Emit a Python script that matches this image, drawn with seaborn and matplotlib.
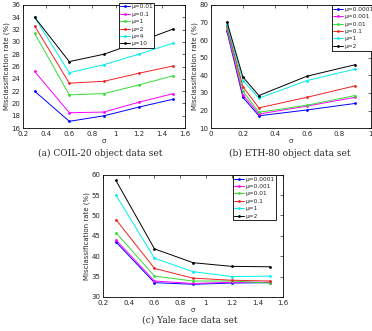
import numpy as np
import pandas as pd
import matplotlib
matplotlib.use("Agg")
import matplotlib.pyplot as plt
import seaborn as sns

# (a) COIL-20
sigma_a = [0.3, 0.6, 0.9, 1.2, 1.5]
mu_a = ['μ=0.01', 'μ=0.1', 'μ=1', 'μ=2', 'μ=4', 'μ=10']
coil = [
    [22.0, 17.1, 18.0, 19.4, 20.7],
    [25.2, 18.5, 18.6, 20.2, 21.6],
    [31.4, 21.4, 21.6, 23.0, 24.5],
    [32.6, 23.3, 23.6, 24.9, 26.1],
    [34.0, 25.0, 26.3, 28.0, 29.8],
    [34.0, 26.8, 28.0, 30.0, 32.1],
]

# (b) ETH-80
sigma_b = [0.1, 0.2, 0.3, 0.6, 0.9]
mu_b = ['μ=0.0001', 'μ=0.001', 'μ=0.01', 'μ=0.1', 'μ=1', 'μ=2']
eth = [
    [65.0, 27.5, 17.0, 20.3, 24.0],
    [66.0, 29.0, 18.0, 22.5, 27.5],
    [67.0, 31.0, 19.0, 23.0, 28.5],
    [68.0, 33.5, 21.5, 27.5, 34.0],
    [69.0, 37.0, 27.0, 37.0, 43.5],
    [70.5, 39.0, 28.5, 39.5, 46.0],
]

# (c) Yale
sigma_c = [0.3, 0.6, 0.9, 1.2, 1.5]
mu_c = ['μ=0.0001', 'μ=0.001', 'μ=0.01', 'μ=0.1', 'μ=1', 'μ=2']
yale = [
    [43.5, 33.5, 33.1, 33.4, 33.5],
    [44.0, 33.9, 33.3, 33.6, 33.6],
    [45.8, 35.1, 33.9, 33.9, 33.4],
    [49.0, 37.0, 34.6, 34.1, 33.9],
    [55.0, 39.5, 36.2, 35.0, 35.1],
    [58.6, 41.8, 38.4, 37.5, 37.4],
]

colors = ['#0000ff', '#ff00ff', '#33dd33', '#ee2222', '#00eeee', '#000000']

sns.set_style('white')
plt.rcParams['font.family'] = ['DejaVu Sans']


def make_df(sig, mus, vals):
    rows = []
    for m, v in zip(mus, vals):
        for s, y in zip(sig, v):
            rows.append({'sigma': s, 'rate': y, 'mu': m})
    return pd.DataFrame(rows)


def tick_fmt(v):
    return f'{v:g}'


def panel(ax, sig, mus, vals, xlim, xticks, ylim, yticks, leg_anchor):
    df = make_df(sig, mus, vals)
    sns.lineplot(data=df, x='sigma', y='rate', hue='mu', hue_order=mus,
                 palette=colors, marker='.', markersize=4, markeredgewidth=0,
                 linewidth=0.7, ax=ax)
    ax.set_xlim(*xlim)
    ax.set_ylim(*ylim)
    ax.set_xticks(xticks)
    ax.set_xticklabels([tick_fmt(t) for t in xticks])
    ax.set_yticks(yticks)
    ax.set_yticklabels([tick_fmt(t) for t in yticks])
    ax.tick_params(direction='in', length=2, width=0.5, labelsize=5,
                   top=True, right=True, pad=2)
    for sp in ax.spines.values():
        sp.set_linewidth(0.6)
        sp.set_color('black')
    ax.set_xlabel('σ', fontsize=5, labelpad=1)
    ax.set_ylabel('Misclassification rate (%)', fontsize=5, labelpad=1)
    h, l = ax.get_legend_handles_labels()
    leg = ax.legend(h, l, loc='upper left', bbox_to_anchor=leg_anchor,
                    fontsize=4.2, frameon=True, fancybox=False,
                    edgecolor='black', framealpha=1, handlelength=1.6,
                    handletextpad=0.25, labelspacing=0.4, borderpad=0.3,
                    borderaxespad=0)
    leg.get_frame().set_linewidth(0.6)


fig = plt.figure(figsize=(3.72, 3.31), dpi=100)

ax_a = fig.add_axes([0.062, 0.613, 0.435, 0.372])
panel(ax_a, sigma_a, mu_a, coil, (0.2, 1.6), np.arange(0.2, 1.61, 0.2).round(1),
      (16, 36), list(range(16, 37, 2)), (0.59, 1.02))

ax_b = fig.add_axes([0.567, 0.613, 0.430, 0.372])
panel(ax_b, sigma_b, mu_b, eth, (0, 1), np.arange(0, 1.01, 0.2).round(1),
      (10, 80), list(range(10, 81, 10)), (0.755, 1.0))

ax_c = fig.add_axes([0.277, 0.103, 0.484, 0.369])
panel(ax_c, sigma_c, mu_c, yale, (0.2, 1.6), np.arange(0.2, 1.61, 0.2).round(1),
      (30, 60), list(range(30, 61, 5)), (0.72, 1.0))

fig.text(100 / 372, 1 - 153 / 331, '(a) COIL-20 object data set', ha='center',
         va='center', fontsize=6.5, family='DejaVu Serif')
fig.text(290 / 372, 1 - 153 / 331, '(b) ETH-80 object data set', ha='center',
         va='center', fontsize=6.5, family='DejaVu Serif')
fig.text(190 / 372, 1 - 320 / 331, '(c) Yale face data set', ha='center',
         va='center', fontsize=6.5, family='DejaVu Serif')

fig.savefig('out.png', dpi=100)
